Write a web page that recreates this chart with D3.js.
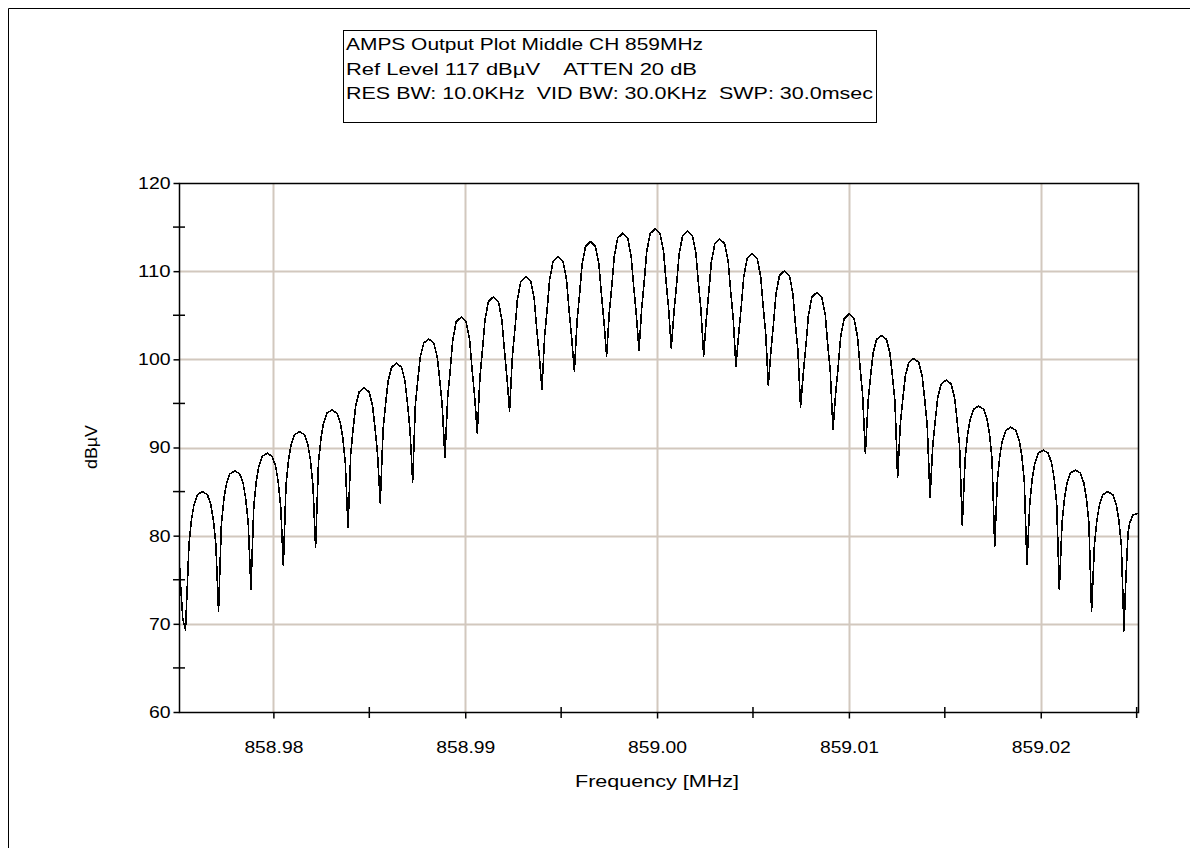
<!DOCTYPE html>
<html>
<head>
<meta charset="utf-8">
<script src="https://cdn.jsdelivr.net/npm/d3@7"></script>
<style>
  html, body { margin: 0; padding: 0; background: #fff; }
  svg { display: block; }
  text { font-family: "Liberation Sans", Arial, sans-serif; fill: #000; white-space: pre; }
</style>
</head>
<body>
<svg id="chart" width="1198" height="856"></svg>
<script>
// ---------------- data ----------------
const titleLines = [
  "AMPS Output Plot Middle CH 859MHz",
  "Ref Level 117 dB\u00b5V    ATTEN 20 dB",
  "RES BW: 10.0KHz  VID BW: 30.0KHz  SWP: 30.0msec"
];
const xTitle = "Frequency [MHz]";
const yTitle = "dB\u00b5V";
const centerMHz = 859.0;
const xDomain = [858.97508, 859.02507];
const yDomain = [60, 120];
const xTicks = [858.98, 858.99, 859.00, 859.01, 859.02];
const xMinorTicks = [858.985, 858.995, 859.005, 859.015, 859.025];
const yTicks = [60, 70, 80, 90, 100, 110, 120];
const yMinorTicks = [65, 75, 85, 95, 105, 115];

// trace: [offset from centre in kHz, level in dBuV]
const trace = [
  [-24.92, 78.0], [-24.84, 74.5], [-24.72, 70.5], [-24.58, 69.3],
  [-24.40, 79.0], [-24.27, 81.8], [-24.14, 83.5], [-23.96, 84.65], [-23.70, 85.0], [-23.44, 84.65], [-23.26, 83.5], [-23.13, 81.8], [-23.00, 79.0],
  [-22.86, 71.4],
  [-22.71, 81.35], [-22.58, 84.15], [-22.45, 85.85], [-22.27, 87.0], [-22.01, 87.35], [-21.75, 87.0], [-21.57, 85.85], [-21.44, 84.15], [-21.31, 81.35],
  [-21.17, 73.9],
  [-21.02, 83.35], [-20.89, 86.15], [-20.76, 87.85], [-20.58, 89.0], [-20.32, 89.35], [-20.06, 89.0], [-19.88, 87.85], [-19.75, 86.15], [-19.62, 83.35],
  [-19.48, 76.6],
  [-19.34, 85.8], [-19.21, 88.6], [-19.08, 90.3], [-18.90, 91.45], [-18.64, 91.8], [-18.38, 91.45], [-18.20, 90.3], [-18.07, 88.6], [-17.94, 85.8],
  [-17.80, 78.65],
  [-17.65, 88.25], [-17.52, 91.05], [-17.39, 92.75], [-17.21, 93.9], [-16.95, 94.25], [-16.69, 93.9], [-16.51, 92.75], [-16.38, 91.05], [-16.25, 88.25],
  [-16.11, 80.9],
  [-15.97, 89.25], [-15.84, 92.15], [-15.71, 94.75], [-15.53, 96.3], [-15.27, 96.75], [-15.01, 96.3], [-14.83, 94.75], [-14.70, 92.15], [-14.57, 89.25],
  [-14.43, 83.7],
  [-14.28, 92.05], [-14.15, 94.95], [-14.02, 97.55], [-13.84, 99.1], [-13.58, 99.55], [-13.32, 99.1], [-13.14, 97.55], [-13.01, 94.95], [-12.88, 92.05],
  [-12.74, 86.1],
  [-12.60, 94.8], [-12.47, 97.7], [-12.34, 100.3], [-12.16, 101.85], [-11.90, 102.3], [-11.64, 101.85], [-11.46, 100.3], [-11.33, 97.7], [-11.20, 94.8],
  [-11.06, 88.9],
  [-10.91, 95.8], [-10.78, 98.8], [-10.65, 102.2], [-10.47, 104.25], [-10.21, 104.8], [-9.95, 104.25], [-9.77, 102.2], [-9.64, 98.8], [-9.51, 95.8],
  [-9.37, 91.6],
  [-9.23, 98.1], [-9.10, 101.1], [-8.97, 104.5], [-8.79, 106.55], [-8.53, 107.1], [-8.27, 106.55], [-8.09, 104.5], [-7.96, 101.1], [-7.83, 98.1],
  [-7.69, 94.1],
  [-7.54, 100.4], [-7.41, 103.4], [-7.28, 106.8], [-7.10, 108.85], [-6.84, 109.4], [-6.58, 108.85], [-6.40, 106.8], [-6.27, 103.4], [-6.14, 100.4],
  [-6.00, 96.6],
  [-5.86, 102.65], [-5.73, 105.65], [-5.60, 109.05], [-5.42, 111.1], [-5.16, 111.65], [-4.90, 111.1], [-4.72, 109.05], [-4.59, 105.65], [-4.46, 102.65],
  [-4.31, 98.7],
  [-4.17, 104.35], [-4.04, 107.35], [-3.91, 110.75], [-3.73, 112.8], [-3.47, 113.35], [-3.21, 112.8], [-3.03, 110.75], [-2.90, 107.35], [-2.77, 104.35],
  [-2.63, 100.4],
  [-2.49, 105.3], [-2.36, 108.3], [-2.23, 111.7], [-2.05, 113.75], [-1.79, 114.3], [-1.53, 113.75], [-1.35, 111.7], [-1.22, 108.3], [-1.09, 105.3],
  [-0.94, 101.05],
  [-0.80, 105.8], [-0.67, 108.8], [-0.54, 112.2], [-0.36, 114.25], [-0.10, 114.8], [0.16, 114.25], [0.34, 112.2], [0.47, 108.8], [0.60, 105.8],
  [0.74, 101.3],
  [0.89, 105.55], [1.02, 108.55], [1.15, 111.95], [1.33, 114.0], [1.59, 114.55], [1.85, 114.0], [2.03, 111.95], [2.16, 108.55], [2.29, 105.55],
  [2.43, 100.4],
  [2.57, 104.65], [2.70, 107.65], [2.83, 111.05], [3.01, 113.1], [3.27, 113.65], [3.53, 113.1], [3.71, 111.05], [3.84, 107.65], [3.97, 104.65],
  [4.11, 99.2],
  [4.26, 103.0], [4.39, 106.0], [4.52, 109.4], [4.70, 111.45], [4.96, 112.0], [5.22, 111.45], [5.40, 109.4], [5.53, 106.0], [5.66, 103.0],
  [5.80, 97.1],
  [5.94, 101.05], [6.07, 104.05], [6.20, 107.45], [6.38, 109.5], [6.64, 110.05], [6.90, 109.5], [7.08, 107.45], [7.21, 104.05], [7.34, 101.05],
  [7.48, 94.6],
  [7.63, 98.6], [7.76, 101.6], [7.89, 105.0], [8.07, 107.05], [8.33, 107.6], [8.59, 107.05], [8.77, 105.0], [8.90, 101.6], [9.03, 98.6],
  [9.17, 92.0],
  [9.31, 96.15], [9.44, 99.15], [9.57, 102.55], [9.75, 104.6], [10.01, 105.15], [10.27, 104.6], [10.45, 102.55], [10.58, 99.15], [10.71, 96.15],
  [10.86, 89.35],
  [11.00, 95.2], [11.13, 98.1], [11.26, 100.7], [11.44, 102.25], [11.70, 102.7], [11.96, 102.25], [12.14, 100.7], [12.27, 98.1], [12.40, 95.2],
  [12.54, 86.65],
  [12.68, 92.6], [12.81, 95.5], [12.94, 98.1], [13.12, 99.65], [13.38, 100.1], [13.64, 99.65], [13.82, 98.1], [13.95, 95.5], [14.08, 92.6],
  [14.23, 84.35],
  [14.37, 90.15], [14.50, 93.05], [14.63, 95.65], [14.81, 97.2], [15.07, 97.65], [15.33, 97.2], [15.51, 95.65], [15.64, 93.05], [15.77, 90.15],
  [15.91, 81.2],
  [16.06, 88.7], [16.19, 91.5], [16.32, 93.2], [16.50, 94.35], [16.76, 94.7], [17.02, 94.35], [17.20, 93.2], [17.33, 91.5], [17.46, 88.7],
  [17.60, 78.8],
  [17.74, 86.3], [17.87, 89.1], [18.00, 90.8], [18.18, 91.95], [18.44, 92.3], [18.70, 91.95], [18.88, 90.8], [19.01, 89.1], [19.14, 86.3],
  [19.28, 76.7],
  [19.43, 83.7], [19.56, 86.5], [19.69, 88.2], [19.87, 89.35], [20.13, 89.7], [20.39, 89.35], [20.57, 88.2], [20.70, 86.5], [20.83, 83.7],
  [20.97, 73.9],
  [21.11, 81.45], [21.24, 84.25], [21.37, 85.95], [21.55, 87.1], [21.81, 87.45], [22.07, 87.1], [22.25, 85.95], [22.38, 84.25], [22.51, 81.45],
  [22.65, 71.4],
  [22.80, 79.0], [22.93, 81.8], [23.06, 83.5], [23.24, 84.65], [23.50, 85.0], [23.76, 84.65], [23.94, 83.5], [24.07, 81.8], [24.20, 79.0],
  [24.34, 69.2],
  [24.42, 74.2], [24.55, 80.3], [24.63, 81.4], [24.80, 82.35], [25.07, 82.55]
];

// ---------------- drawing ----------------
const svg = d3.select("#chart");
const plot = { left: 179, right: 1138, top: 183, bottom: 712 };
const FONT = 17;

const x = d3.scaleLinear().domain(xDomain).range([plot.left, plot.right]);
const y = d3.scaleLinear().domain(yDomain).range([plot.bottom, plot.top]);

// outer frame (top and left edges)
svg.append("line").attr("x1", 8.5).attr("y1", 8.5).attr("x2", 1190).attr("y2", 8.5)
  .attr("stroke", "#000").attr("stroke-width", 1);
svg.append("line").attr("x1", 8.5).attr("y1", 8.5).attr("x2", 8.5).attr("y2", 848)
  .attr("stroke", "#000").attr("stroke-width", 1);

// title box
const tb = svg.append("g");
tb.append("rect").attr("x", 343.5).attr("y", 30.5).attr("width", 533).attr("height", 92)
  .attr("fill", "#fff").attr("stroke", "#000").attr("stroke-width", 1);
const titleWidths = [357, 351, 527];
tb.selectAll("text").data(titleLines).join("text")
  .attr("x", 346)
  .attr("y", (d, i) => 50 + i * 24.5)
  .attr("font-size", FONT)
  .attr("textLength", (d, i) => titleWidths[i])
  .attr("lengthAdjust", "spacingAndGlyphs")
  .text(d => d);

// grid
const gridColor = "#d2c8be";
svg.append("g").selectAll("line").data(xTicks).join("line")
  .attr("x1", d => Math.round(x(d)) + 0.5).attr("x2", d => Math.round(x(d)) + 0.5)
  .attr("y1", plot.top).attr("y2", plot.bottom)
  .attr("stroke", gridColor).attr("stroke-width", 2);
svg.append("g").selectAll("line").data(yTicks.filter(v => v > yDomain[0] && v < yDomain[1])).join("line")
  .attr("y1", d => Math.round(y(d)) + 0.5).attr("y2", d => Math.round(y(d)) + 0.5)
  .attr("x1", plot.left).attr("x2", plot.right)
  .attr("stroke", gridColor).attr("stroke-width", 2);

// trace
svg.append("clipPath").attr("id", "clip").append("rect")
  .attr("x", plot.left).attr("y", plot.top)
  .attr("width", plot.right - plot.left).attr("height", plot.bottom - plot.top);
const line = d3.line()
  .x(d => x(centerMHz + d[0] / 1000))
  .y(d => y(d[1]))
  .curve(d3.curveLinear);
svg.append("path").datum(trace)
  .attr("clip-path", "url(#clip)")
  .attr("fill", "none").attr("stroke", "#000").attr("stroke-width", 1.6)
  .attr("stroke-linejoin", "round")
  .attr("shape-rendering", "crispEdges")
  .attr("d", line);

// plot frame
svg.append("rect").attr("x", plot.left + 0.5).attr("y", plot.top + 0.5)
  .attr("width", plot.right - plot.left).attr("height", plot.bottom - plot.top)
  .attr("fill", "none").attr("stroke", "#000").attr("stroke-width", 1.5);

// axes
const xAxis = d3.axisBottom(x).tickValues(xTicks).tickFormat(d3.format(".2f")).tickSize(6).tickPadding(22);
const gx = svg.append("g").attr("transform", `translate(0,${plot.bottom + 0.5})`).call(xAxis);
const yAxis = d3.axisLeft(y).tickValues(yTicks).tickFormat(d3.format("d")).tickSize(6).tickPadding(3);
const gy = svg.append("g").attr("transform", `translate(${plot.left + 0.5},0)`).call(yAxis);
[gx, gy].forEach(g => {
  g.select(".domain").remove();
  g.selectAll(".tick line").attr("stroke", "#000").attr("stroke-width", 1.5);
  g.selectAll(".tick text").attr("font-size", FONT).attr("font-family", "Liberation Sans, Arial, sans-serif").attr("fill", "#000")
    .attr("lengthAdjust", "spacingAndGlyphs");
});
gx.selectAll(".tick text").attr("textLength", 59);
gy.selectAll(".tick text").attr("textLength", d => String(d).length * 10.8);

// minor ticks (crossing the axis)
svg.append("g").selectAll("line").data(xMinorTicks.filter(v => v < xDomain[1])).join("line")
  .attr("x1", d => x(d)).attr("x2", d => x(d))
  .attr("y1", plot.bottom - 5).attr("y2", plot.bottom + 6)
  .attr("stroke", "#000").attr("stroke-width", 1.5);
svg.append("g").selectAll("line").data(yMinorTicks).join("line")
  .attr("y1", d => y(d)).attr("y2", d => y(d))
  .attr("x1", plot.left - 6).attr("x2", plot.left + 6)
  .attr("stroke", "#000").attr("stroke-width", 1.5);

// axis titles
svg.append("text").attr("x", 657).attr("y", 787).attr("text-anchor", "middle")
  .attr("font-size", FONT).attr("textLength", 164).attr("lengthAdjust", "spacingAndGlyphs").text(xTitle);
svg.append("text").attr("transform", "translate(97,447) rotate(-90)")
  .attr("text-anchor", "middle").attr("font-size", FONT)
  .attr("textLength", 44).attr("lengthAdjust", "spacingAndGlyphs").text(yTitle);
</script>
</body>
</html>
